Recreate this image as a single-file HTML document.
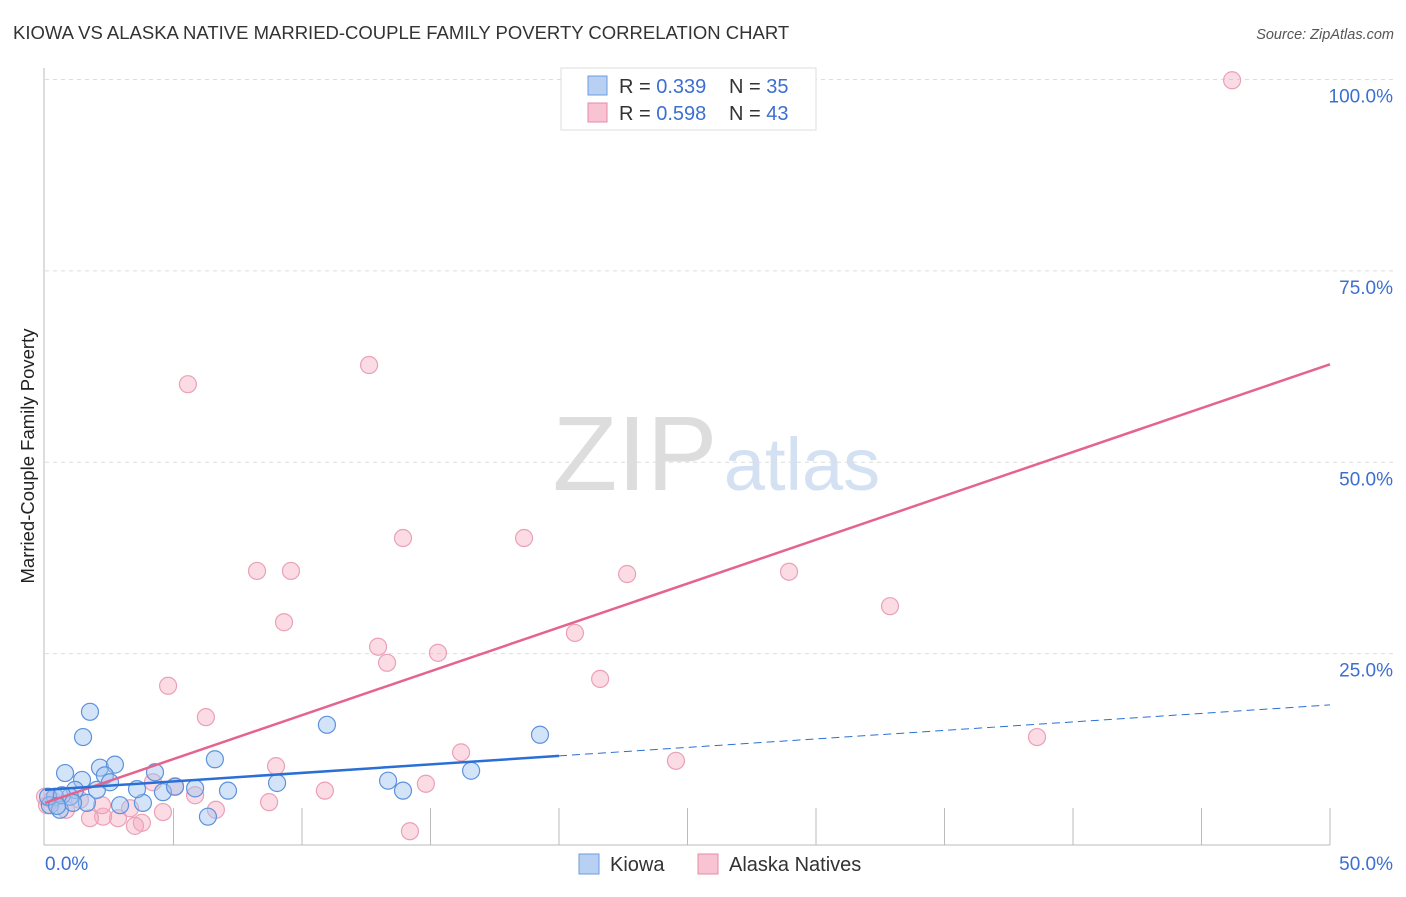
<!DOCTYPE html>
<html><head><meta charset="utf-8"><style>
body{margin:0;background:#fff;font-family:"Liberation Sans",sans-serif;}
svg text{font-family:"Liberation Sans",sans-serif;}
</style></head><body>
<svg id="c" width="1406" height="892">
<text x="13" y="39" font-size="18.5" fill="#333">KIOWA VS ALASKA NATIVE MARRIED-COUPLE FAMILY POVERTY CORRELATION CHART</text>
<text x="1394" y="39" font-size="14.5" fill="#555" font-style="italic" text-anchor="end">Source: ZipAtlas.com</text>
<text x="0" y="0" font-size="18.5" fill="#222" text-anchor="middle" transform="translate(34,456) rotate(-90)">Married-Couple Family Poverty</text>
<g>
<text x="635" y="490" font-size="106" fill="#ddd" font-family="Liberation Serif" text-anchor="middle">ZIP</text>
<text x="802" y="490" font-size="74" fill="#d3e1f3" text-anchor="middle">atlas</text>
</g>
<g id="grid"></g><g id="marks"></g>
<g>
<rect x="561" y="68" width="255" height="62" fill="#fff" stroke="#ddd"/>
<rect x="588" y="76" width="19" height="19" fill="#b8d1f3" stroke="#6b9be0"/>
<rect x="588" y="103" width="19" height="19" fill="#f8c4d3" stroke="#e68aa6"/>
<text x="619" y="93" font-size="20" fill="#333">R = <tspan fill="#3c6fd1">0.339</tspan></text>
<text x="729" y="93" font-size="20" fill="#333">N = <tspan fill="#3c6fd1">35</tspan></text>
<text x="619" y="120" font-size="20" fill="#333">R = <tspan fill="#3c6fd1">0.598</tspan></text>
<text x="729" y="120" font-size="20" fill="#333">N = <tspan fill="#3c6fd1">43</tspan></text>
</g>
<g>
<rect x="579" y="854" width="20" height="20" fill="#b8d1f3" stroke="#6b9be0"/>
<text x="610" y="871" font-size="20" fill="#333">Kiowa</text>
<rect x="698" y="854" width="20" height="20" fill="#f8c4d3" stroke="#e68aa6"/>
<text x="729" y="871" font-size="20" fill="#333">Alaska Natives</text>
</g>
</svg>
<script>
const kiowaX=[1.75,1.48,0.78,1.44,2.14,2.72,2.33,4.28,2.02,1.17,0.97,1.63,0.39,0.19,0.58,2.92,3.81,3.58,4.59,5.06,5.84,6.61,7.12,6.34,9.03,10.97,13.35,13.93,16.58,19.26,0.12,0.66,1.09,2.53,0.47];
const kiowaY=[17.4,14.1,9.4,8.5,10.1,10.5,9.1,9.5,7.2,7.2,6.3,5.5,6.3,5.2,4.6,5.2,5.5,7.3,6.9,7.6,7.4,11.2,7.1,3.7,8.1,15.7,8.4,7.1,9.7,14.4,6.3,6.5,5.5,8.2,5.1];
const alaskaX=[46.19,5.56,12.61,13.93,18.64,8.25,9.57,22.65,28.95,32.88,9.30,12.96,20.62,13.31,15.29,21.60,4.79,6.26,38.60,16.19,24.55,8.99,4.20,10.89,14.82,8.72,6.65,5.84,4.59,3.77,3.50,2.84,2.26,1.75,0.82,0.27,0.0,14.20,2.22,5.06,3.31,0.08,1.36];
const alaskaY=[99.9,60.2,62.7,40.1,40.1,35.8,35.8,35.4,35.7,31.2,29.1,25.9,27.7,23.8,25.1,21.7,20.8,16.7,14.1,12.1,11.0,10.3,8.2,7.1,8.0,5.6,4.6,6.5,4.3,2.9,2.5,3.5,3.7,3.5,4.6,5.9,6.3,1.8,5.2,7.7,4.8,5.2,5.9];
const trendKiowa=[7.2,0.222];
const trendAlaska=[5.5,1.146];
const yTicks=[25,50,75,100];
const yTickLabels=["25.0%","50.0%","75.0%","100.0%"];
const xTicks=[0,5,10,15,20,25,30,35,40,45,50];

const NS="http://www.w3.org/2000/svg";
const X=v=>45+v*25.7, Y=v=>845-v*7.655;
function mk(tag,attrs,parent){const e=document.createElementNS(NS,tag);for(const k in attrs)e.setAttribute(k,attrs[k]);parent.appendChild(e);return e;}
const g=document.getElementById('grid'), m=document.getElementById('marks');
mk('line',{x1:44,y1:68,x2:44,y2:845,stroke:'#bbb'},g);
mk('line',{x1:44,y1:845,x2:1330,y2:845,stroke:'#bbb'},g);
yTicks.forEach((t,i)=>{
 const l=mk('line',{x1:45,x2:1394,y1:Y(t),y2:Y(t),stroke:'#ddd','stroke-dasharray':'4,4'},g);
 
 
 const tx=mk('text',{x:1393,y:Y(t)+23,'font-size':19,fill:'#3c6fd1','text-anchor':'end'},g);tx.textContent=yTickLabels[i];
 
 
});
xTicks.forEach(t=>{if(t>0){const l=mk('line',{x1:X(t),x2:X(t),y1:808,y2:845,stroke:'#bbb'},g);
 
 }});
let t0=mk('text',{x:45,y:870,'font-size':19,fill:'#3c6fd1'},g);t0.textContent='0.0%';


let t1=mk('text',{x:1393,y:870,'font-size':19,fill:'#3c6fd1','text-anchor':'end'},g);t1.textContent='50.0%';


alaskaX.forEach((x,i)=>{const c=mk('circle',{cx:X(x),cy:Y(alaskaY[i]),r:8.5,fill:'rgba(244,168,190,0.4)',stroke:'#eba0b7','stroke-width':1.2},m);
 
 });
kiowaX.forEach((x,i)=>{const c=mk('circle',{cx:X(x),cy:Y(kiowaY[i]),r:8.5,fill:'rgba(160,195,240,0.45)',stroke:'#5d92dc','stroke-width':1.2},m);
 
 });
let la=mk('line',{x1:X(0),y1:Y(trendAlaska[0]),x2:X(50),y2:Y(trendAlaska[0]+trendAlaska[1]*50),stroke:'#e5638f','stroke-width':2.5},m);


const kx=20;
let lk=mk('line',{x1:X(0),y1:Y(trendKiowa[0]),x2:X(kx),y2:Y(trendKiowa[0]+trendKiowa[1]*kx),stroke:'#2a6fd6','stroke-width':2.5},m);


let lkd=mk('line',{x1:X(kx),y1:Y(trendKiowa[0]+trendKiowa[1]*kx),x2:X(50),y2:Y(trendKiowa[0]+trendKiowa[1]*50),stroke:'#2a6fd6','stroke-width':1,'stroke-dasharray':'8,5'},m);


</script>
</body></html>
